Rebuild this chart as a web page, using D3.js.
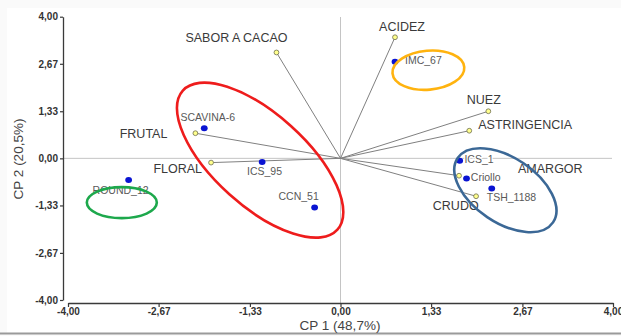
<!DOCTYPE html>
<html>
<head>
<meta charset="utf-8">
<script src="https://cdn.jsdelivr.net/npm/d3@7/dist/d3.min.js"></script>
<style>
  html, body { margin: 0; padding: 0; background: #fff; }
  svg { display: block; font-family: "Liberation Sans", Arial, sans-serif; }
</style>
</head>
<body>
<svg id="chart" width="621" height="336"></svg>
<script>
// Biplot PCA: sensory attributes (vectors) and cacao clones (scores)
const axisTicks = [-4, -2.67, -1.33, 0, 1.33, 2.67, 4];

const attrNames = ["SABOR A CACAO", "ACIDEZ", "FRUTAL", "FLORAL", "NUEZ", "ASTRINGENCIA", "AMARGOR", "CRUDO"];
const attrCP1   = [-0.94, 0.80, -2.13, -1.90, 2.17, 1.89, 1.74, 1.99];
const attrCP2   = [ 2.99, 3.42,  0.71, -0.12, 1.33, 0.78, -0.49, -1.07];

const cloneNames = ["SCAVINA-6", "ICS_95", "CCN_51", "ROUND_12", "IMC_67", "ICS_1", "Criollo", "TSH_1188"];
const cloneCP1   = [-2.00, -1.15, -0.38, -3.11, 0.80, 1.75, 1.85, 2.22];
const cloneCP2   = [ 0.85, -0.10, -1.39, -0.61, 2.73, -0.07, -0.57, -0.85];

// group outlines, in CP units: centre, semi-axes and tilt
const groupCP1   = [-1.18, 1.29, -3.21, 2.42];
const groupCP2   = [-0.05, 2.49, -1.25, -0.90];

const xTitle = "CP 1 (48,7%)";
const yTitle = "CP 2 (20,5%)";

// ---- layout ----
const svg = d3.select("#chart");
const x = d3.scaleLinear().domain([-4, 4]).range([68, 613]);
const y = d3.scaleLinear().domain([-4, 4]).range([300, 16.7]);
const fmt = v => (v < 0 ? "-" : "") + Math.abs(v).toFixed(2).replace(".", ",");

// label placement (pixel offsets from the marker)
const attrLabelPos = {
  "SABOR A CACAO": [-40, -10, "middle"],
  "ACIDEZ":        [7, -6, "middle"],
  "FRUTAL":        [-28, 4.5, "end"],
  "FLORAL":        [-9, 10, "end"],
  "NUEZ":          [-4.5, -7, "middle"],
  "ASTRINGENCIA":  [9, -2, "start"],
  "AMARGOR":       [59, -3, "start"],
  "CRUDO":         [2.6, 14, "end"]
};
const cloneLabelPos = {
  "SCAVINA-6": [3.5, -7.7, "middle"],
  "ICS_95":    [2.4, 13.5, "middle"],
  "CCN_51":    [-16, -7.7, "middle"],
  "ROUND_12":  [-8, 14.5, "middle"],
  "IMC_67":    [10, 2.5, "start"],
  "ICS_1":     [4.7, 2, "start"],
  "Criollo":   [4.3, 2.8, "start"],
  "TSH_1188":  [-5, 12.8, "start"]
};
const groupShape = [
  { rx: 104, ry: 46, rot: 42, color: "#ee1c1c" },
  { rx: 36, ry: 19.5, rot: -5, color: "#ffb30f" },
  { rx: 35, ry: 15.5, rot: 0, color: "#1da84c" },
  { rx: 57.5, ry: 32.5, rot: 34, color: "#3b6896" }
];

// page frame
svg.append("rect").attr("width", 621).attr("height", 336).attr("fill", "#fafafa");
svg.append("rect").attr("x", 7).attr("y", 8).attr("width", 614).attr("height", 325).attr("fill", "#fff");
svg.append("line").attr("x1", 0).attr("x2", 621).attr("y1", 333.5).attr("y2", 333.5)
  .attr("stroke", "#9a9a9a").attr("stroke-width", 1.8);

// zero reference lines
svg.append("line").attr("x1", 64).attr("x2", 612).attr("y1", y(0)).attr("y2", y(0))
  .attr("stroke", "#c4c4c4").attr("stroke-width", 1);
svg.append("line").attr("x1", x(0)).attr("x2", x(0)).attr("y1", 17).attr("y2", 303)
  .attr("stroke", "#c4c4c4").attr("stroke-width", 1);

const attrs = attrNames.map((n, i) => ({ name: n, cp1: attrCP1[i], cp2: attrCP2[i] }));
const clones = cloneNames.map((n, i) => ({ name: n, cp1: cloneCP1[i], cp2: cloneCP2[i] }));

// attribute vectors
svg.append("g").selectAll("line").data(attrs).join("line")
  .attr("x1", x(0)).attr("y1", y(0))
  .attr("x2", d => x(d.cp1)).attr("y2", d => y(d.cp2))
  .attr("stroke", "#808080").attr("stroke-width", 1);

// observation labels (with white halo)
svg.append("g").selectAll("text").data(clones).join("text")
  .attr("x", d => x(d.cp1) + cloneLabelPos[d.name][0])
  .attr("y", d => y(d.cp2) + cloneLabelPos[d.name][1])
  .attr("text-anchor", d => cloneLabelPos[d.name][2])
  .attr("font-size", 10.5).attr("fill", "#595959")
  .attr("stroke", "#fff").attr("stroke-width", 2.5).attr("paint-order", "stroke")
  .text(d => d.name);

// attribute labels
svg.append("g").selectAll("text").data(attrs).join("text")
  .attr("x", d => x(d.cp1) + attrLabelPos[d.name][0])
  .attr("y", d => y(d.cp2) + attrLabelPos[d.name][1])
  .attr("text-anchor", d => attrLabelPos[d.name][2])
  .attr("font-size", 12.5).attr("fill", "#3a3a3a")
  .text(d => d.name);

// attribute endpoints
svg.append("g").selectAll("circle").data(attrs).join("circle")
  .attr("cx", d => x(d.cp1)).attr("cy", d => y(d.cp2)).attr("r", 2.4)
  .attr("fill", "#ffff8c").attr("stroke", "#7d7d5a").attr("stroke-width", 0.9);

// clone scores
svg.append("g").selectAll("ellipse").data(clones).join("ellipse")
  .attr("cx", d => x(d.cp1)).attr("cy", d => y(d.cp2)).attr("rx", 3.4).attr("ry", 3)
  .attr("fill", "#0a14d2");

// group outlines
svg.append("g").selectAll("ellipse").data(groupShape).join("ellipse")
  .attr("transform", (d, i) => `translate(${x(groupCP1[i])},${y(groupCP2[i])}) rotate(${d.rot})`)
  .attr("rx", d => d.rx).attr("ry", d => d.ry)
  .attr("fill", "none").attr("stroke", d => d.color).attr("stroke-width", 2.6);

// axes
const xAxis = svg.append("g").attr("transform", "translate(0,303)")
  .call(d3.axisBottom(x).tickValues(axisTicks).tickFormat(fmt).tickSize(4).tickSizeOuter(0).tickPadding(1));
const yAxis = svg.append("g").attr("transform", "translate(63,0)")
  .call(d3.axisLeft(y).tickValues(axisTicks).tickFormat(fmt).tickSize(3).tickSizeOuter(0).tickPadding(2));
[xAxis, yAxis].forEach(g => {
  g.select(".domain").attr("stroke", "#3a3a3a").attr("stroke-width", 1.3);
  g.selectAll(".tick line").attr("stroke", "#3a3a3a").attr("stroke-width", 1.2);
  g.selectAll(".tick text").attr("fill", "#333").attr("font-size", 10).attr("font-weight", "bold")
    .attr("font-family", "'Liberation Sans', Arial, sans-serif");
});

// axis titles
svg.append("text").attr("x", 340).attr("y", 330).attr("text-anchor", "middle")
  .attr("font-size", 13.5).attr("fill", "#444").text(xTitle);
svg.append("text").attr("transform", "translate(23,159) rotate(-90)").attr("text-anchor", "middle")
  .attr("font-size", 13.5).attr("fill", "#444").text(yTitle);
</script>
</body>
</html>
